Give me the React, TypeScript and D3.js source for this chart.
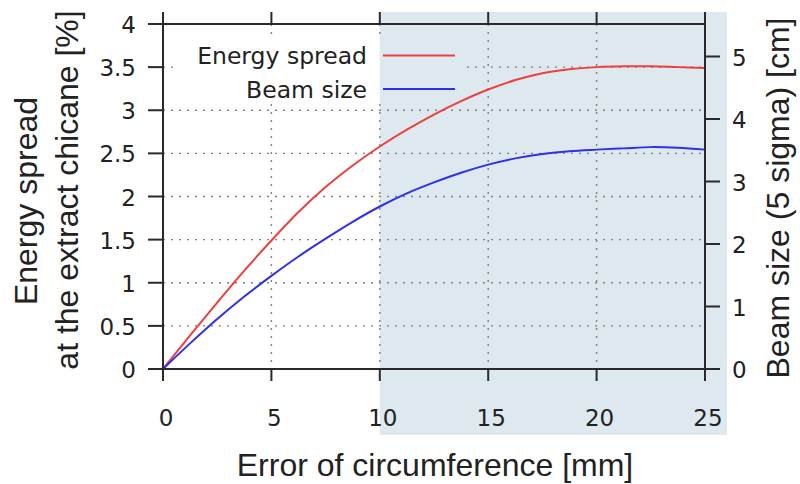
import React from "react";
import * as d3 from "d3";

const xValues = [0, 1.25, 2.5, 3.75, 5, 6.25, 7.5, 8.75, 10, 11.25, 12.5, 13.75, 15, 16.25, 17.5, 18.75, 20, 21.25, 22.5, 23.75, 25];
const energySpread = [0, 0.39, 0.77, 1.14, 1.49, 1.82, 2.11, 2.36, 2.58, 2.775, 2.95, 3.105, 3.24, 3.35, 3.43, 3.475, 3.5, 3.51, 3.51, 3.5, 3.49];
const beamSize = [0, 0.41, 0.8, 1.16, 1.49, 1.8, 2.085, 2.355, 2.6, 2.81, 2.985, 3.14, 3.27, 3.37, 3.44, 3.485, 3.51, 3.53, 3.55, 3.54, 3.51];
const xTicks = [0, 5, 10, 15, 20, 25];
const yLeftTicks = [0, 0.5, 1, 1.5, 2, 2.5, 3, 3.5, 4];
const yRightTicks = [0, 1, 2, 3, 4, 5];
const shadedFrom = 10;
const seriesNames = ["Energy spread", "Beam size"];

const L = 163, R = 705, T = 24, B = 369;
const textColor = "#222";
const axisColor = "#2a2a2a";
const redC = "#ee3f3f";
const blueC = "#2f2ff0";

export default function App() {
  const x = d3.scaleLinear().domain([0, 25]).range([L, R]);
  const yL = d3.scaleLinear().domain([0, 4]).range([B, T]);
  const yR = d3.scaleLinear().domain([0, 5.52]).range([B, T]);

  const lineE = d3
    .line<number>()
    .x((_, i) => x(xValues[i]))
    .y((d) => yL(d))
    .curve(d3.curveCatmullRom);
  const lineB = d3
    .line<number>()
    .x((_, i) => x(xValues[i]))
    .y((d) => yR(d))
    .curve(d3.curveCatmullRom);

  const tickFont = "DejaVu Sans, Verdana, sans-serif";
  const titleFont = "Liberation Sans, Arial, sans-serif";

  return (
    <svg
      width={800}
      height={484}
      style={{ position: "absolute", left: 0, top: 0, background: "#fff" }}
    >
      <defs>
        <mask id="gridMask">
          <rect x={0} y={0} width={800} height={484} fill="#fff" />
          <rect x={178} y={40} width={286} height={64} fill="#000" />
        </mask>
      </defs>
      {/* shaded region */}
      <rect x={x(shadedFrom)} y={12} width={727 - x(shadedFrom)} height={435 - 12} fill="#dde9ee" />

      {/* grid */}
      <g mask="url(#gridMask)" stroke="#808080" strokeWidth={1.4} strokeDasharray="2,6">
        {xTicks.slice(1, -1).map((t) => (
          <line key={"gx" + t} x1={x(t)} x2={x(t)} y1={T} y2={B} />
        ))}
        {yLeftTicks.slice(1, -1).map((t) => (
          <line key={"gy" + t} x1={L} x2={R} y1={yL(t)} y2={yL(t)} />
        ))}
      </g>

      {/* curves */}
      <path d={lineE(energySpread) || ""} fill="none" stroke={redC} strokeWidth={2} />
      <path d={lineB(beamSize) || ""} fill="none" stroke={blueC} strokeWidth={2} />

      {/* frame and ticks */}
      <g stroke={axisColor} strokeWidth={2} fill="none">
        <rect x={L} y={T} width={R - L} height={B - T} />
        {xTicks.map((t) => (
          <g key={"xt" + t}>
            <line x1={x(t)} x2={x(t)} y1={B} y2={B + 12} />
            <line x1={x(t)} x2={x(t)} y1={T} y2={T - 12} />
          </g>
        ))}
        {yLeftTicks.map((t) => (
          <line key={"ylt" + t} x1={L - 15} x2={L} y1={yL(t)} y2={yL(t)} />
        ))}
        {yRightTicks.map((t) => (
          <line key={"yrt" + t} x1={R} x2={R + 15} y1={yR(t)} y2={yR(t)} />
        ))}
      </g>

      {/* tick labels */}
      <g fontFamily={tickFont} fontSize={23} fill={textColor}>
        {xTicks.map((t) => (
          <text key={"xl" + t} x={x(t) + 3} y={418} textAnchor="middle" dominantBaseline="central">
            {t}
          </text>
        ))}
        {yLeftTicks.map((t) => (
          <text key={"yll" + t} x={136} y={yL(t) + 1} textAnchor="end" dominantBaseline="central">
            {t}
          </text>
        ))}
        {yRightTicks.map((t) => (
          <text key={"yrl" + t} x={732} y={yR(t) + 1} textAnchor="start" dominantBaseline="central">
            {t}
          </text>
        ))}
      </g>

      {/* legend */}
      <g fontFamily={tickFont} fontSize={23.5} fill={textColor}>
        <text x={367} y={56} textAnchor="end" dominantBaseline="central">
          {seriesNames[0]}
        </text>
        <text x={367} y={90} textAnchor="end" dominantBaseline="central">
          {seriesNames[1]}
        </text>
      </g>
      <line x1={383} x2={455} y1={55.5} y2={55.5} stroke={redC} strokeWidth={2} />
      <line x1={383} x2={455} y1={89} y2={89} stroke={blueC} strokeWidth={2} />

      {/* axis titles */}
      <g fontFamily={titleFont} fontSize={32} fill={textColor}>
        <text x={435} y={476} textAnchor="middle">
          Error of circumference [mm]
        </text>
        <text transform="translate(37,201) rotate(-90)" textAnchor="middle">
          Energy spread
        </text>
        <text transform="translate(78,190) rotate(-90)" textAnchor="middle">
          at the extract chicane [%]
        </text>
        <text transform="translate(789,198) rotate(-90)" textAnchor="middle">
          Beam size (5 sigma) [cm]
        </text>
      </g>
    </svg>
  );
}
